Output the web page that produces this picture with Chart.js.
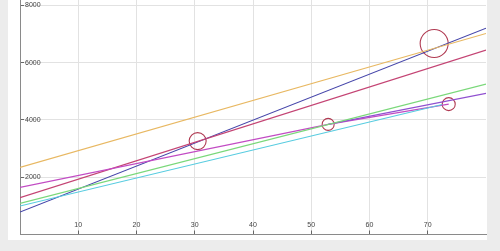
<!DOCTYPE html>
<html>
<head>
<meta charset="utf-8">
<script src="https://cdn.jsdelivr.net/npm/chart.js@4/dist/chart.umd.min.js"></script>
<style>
  html, body { margin: 0; padding: 0; background: #ececec; }
  #wrap { position: relative; width: 500px; height: 251px; }
  #panel { position: absolute; left: 8px; top: 0; width: 479px; height: 240px; background: #ffffff; }
  canvas { position: absolute; left: 0; top: 0; }
</style>
</head>
<body>
<div id="wrap">
  <div id="panel"></div>
  <canvas id="c" width="500" height="251"></canvas>
</div>
<script>
// ---- data ----
const xTicks = [10, 20, 30, 40, 50, 60, 70];
const yTicks = [2000, 4000, 6000, 8000];

const orangeX = [0, 80];     const orangeY = [2345, 7022];
const blueX = [0, 80];       const blueY = [785, 7207];
const crimsonX = [0, 80];    const crimsonY = [1284, 6439];
const greenX = [0, 80];      const greenY = [1089, 5252];
const cyanX = [0, 72.5];     const cyanY = [995, 4540];
const magentaX = [0, 52.9, 73.6]; const magentaY = [1647, 3846, 4554];
const purpleX = [52.9, 80];  const purpleY = [3846, 4928];

const circleX = [30.5, 52.9, 71.1, 73.6];
const circleY = [3263, 3846, 6673, 4554];

const xMin = 0, xMax = 80;
const yMin = 0, yMax = 8192;

function pts(xs, ys) { return xs.map((x, i) => ({ x: x, y: ys[i] })); }

function lineDS(xs, ys, color) {
  return {
    type: 'line',
    data: pts(xs, ys),
    borderColor: color,
    borderWidth: 1.2,
    pointRadius: 0,
    fill: false,
    tension: 0
  };
}

const font = { family: "'Liberation Sans', Arial, sans-serif", size: 7 };

new Chart(document.getElementById('c'), {
  type: 'scatter',
  data: {
    datasets: [
      lineDS(cyanX, cyanY, '#58cce0'),
      lineDS(greenX, greenY, '#7ad87a'),
      lineDS(purpleX, purpleY, '#9050d0'),
      lineDS(magentaX, magentaY, '#c24cc4'),
      lineDS(crimsonX, crimsonY, '#c44474'),
      lineDS(orangeX, orangeY, '#e8b862'),
      lineDS(blueX, blueY, '#4646aa'),
      {
        type: 'scatter',
        data: pts(circleX, circleY),
        pointRadius: [8.5, 6, 14, 6.5],
        pointHoverRadius: [8.5, 6, 14, 6.5],
        pointBorderColor: '#b03a52',
        pointBackgroundColor: 'rgba(0,0,0,0)',
        pointBorderWidth: 1.1,
        showLine: false
      }
    ]
  },
  options: {
    responsive: false,
    animation: false,
    events: [],
    layout: { autoPadding: false, padding: { left: 20, right: 14, top: 0, bottom: 16.5 } },
    plugins: { legend: { display: false }, tooltip: { enabled: false } },
    scales: {
      x: {
        type: 'linear',
        position: 'bottom',
        min: xMin,
        max: xMax,
        afterBuildTicks: (s) => { s.ticks = xTicks.map(v => ({ value: v })); },
        afterFit: (s) => { s.height = 0; s.paddingLeft = 0; s.paddingRight = 0; s.paddingTop = 0; s.paddingBottom = 0; },
        grid: { color: '#e2e2e2', lineWidth: 1, drawTicks: true, tickLength: -4, tickColor: '#666', tickWidth: 1 },
        border: { display: true, color: '#8a8a8a', width: 1 },
        ticks: { color: '#444', font: font, mirror: true, padding: 5.5, maxRotation: 0, autoSkip: false, callback: (v) => String(v) }
      },
      y: {
        type: 'linear',
        position: 'left',
        min: yMin,
        max: yMax,
        afterBuildTicks: (s) => { s.ticks = yTicks.map(v => ({ value: v })); },
        afterFit: (s) => { s.width = 0; s.paddingLeft = 0; s.paddingRight = 0; s.paddingTop = 0; s.paddingBottom = 0; },
        grid: { color: '#e2e2e2', lineWidth: 1, drawTicks: true, tickLength: -4, tickColor: '#666', tickWidth: 1 },
        border: { display: true, color: '#8a8a8a', width: 1 },
        ticks: { color: '#444', font: font, mirror: true, padding: 5, autoSkip: false, callback: (v) => String(v) }
      }
    }
  }
});
</script>
</body>
</html>
